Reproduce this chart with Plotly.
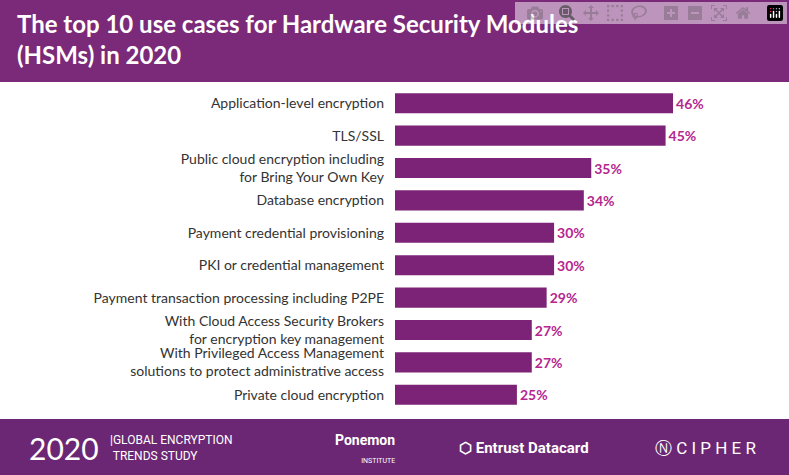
import plotly.graph_objects as go

categories = ["Application-level encryption", "TLS/SSL",
    "Public cloud encryption including<br>for Bring Your Own Key", "Database encryption",
    "Payment credential provisioning", "PKI or credential management",
    "Payment transaction processing including P2PE",
    "With Cloud Access Security Brokers<br>for encryption key management",
    "With Privileged Access Management<br>solutions to protect administrative access",
    "Private cloud encryption"]
values = [46, 45, 35, 34, 30, 30, 29, 27, 27, 25]
value_labels = [f"<b>{v}%</b>" for v in values]

BASE = 8.6
W, H = 789, 475
PW, PH = W - 424, 324
fig = go.Figure(go.Bar(
    y=categories, x=[v - BASE for v in values], orientation="h", base=BASE,
    width=0.62,
    marker=dict(color="#7d2377", line=dict(width=0)),
    text=value_labels, textposition="outside", cliponaxis=False,
    textfont=dict(color="#b5268f", size=14, family="Lato"),
))
fig.update_layout(
    width=W, height=H, margin=dict(l=395, r=29, t=87, b=64),
    paper_bgcolor="white", plot_bgcolor="white", showlegend=False,
    font=dict(family="Lato", color="#333333"),
    xaxis=dict(range=[BASE, 57.7], visible=False),
    yaxis=dict(showgrid=False, ticks="", ticklabelstandoff=10,
               tickfont=dict(size=14, color="#333333"), range=[9.5, -0.5]),
    shapes=[
        dict(type="rect", xref="paper", yref="paper", x0=-395/PW, x1=(W-395)/PW,
             y0=1+5/PH, y1=1+87/PH, fillcolor="#7a2a78", line_width=0, layer="below"),
        dict(type="rect", xref="paper", yref="paper", x0=-395/PW, x1=(W-395)/PW,
             y0=-64/PH, y1=-8/PH, fillcolor="#6b2774", line_width=0, layer="below"),
    ],
    annotations=[
        dict(xref="paper", yref="paper", x=-380/PW, y=1+80/PH, xanchor="left", yanchor="top",
             text="<b>The top 10 use cases for Hardware Security Modules<br>(HSMs) in 2020</b>",
             align="left", showarrow=False, font=dict(size=24, color="white", family="Lato")),
        dict(xref="paper", yref="paper", x=-368/PW, y=-37/PH, xanchor="left", yanchor="middle",
             text="2020", showarrow=False, font=dict(size=30, color="white", family="Lato")),
        dict(xref="paper", yref="paper", x=-287/PW, y=-37/PH, xanchor="left", yanchor="middle",
             text="|GLOBAL ENCRYPTION<br> TRENDS STUDY", align="left", showarrow=False,
             font=dict(size=12, color="white", family="Roboto")),
        dict(xref="paper", yref="paper", x=-62/PW, y=-37/PH, xanchor="left", yanchor="middle",
             text="<b>Ponemon</b><br><span style='font-size:7px'>INSTITUTE</span>", align="right",
             showarrow=False, font=dict(size=14, color="white", family="Roboto")),
        dict(xref="paper", yref="paper", x=62/PW, y=-37/PH, xanchor="left", yanchor="middle",
             text="<b>⬡ Entrust Datacard</b>", showarrow=False,
             font=dict(size=15, color="white", family="Roboto")),
        dict(xref="paper", yref="paper", x=258/PW, y=-37/PH, xanchor="left", yanchor="middle",
             text="Ⓝ C I P H E R", showarrow=False,
             font=dict(size=17, color="white", family="Roboto")),
    ],
)
fig.write_html("out.html")
with open("out.html") as f:
    html = f.read()
html = html.replace("<body>", "<body style=\"margin:0;padding:0\">", 1)
with open("out.html", "w") as f:
    f.write(html)
